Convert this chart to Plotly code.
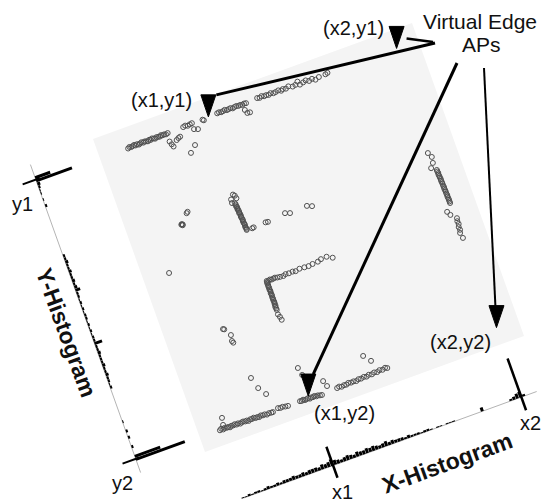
import plotly.graph_objects as go

# ---------------- data (floor-plan coordinates, 0..100 on each side) ----------------
nw_row = [(8.8, 6.3), (9.3, 6.0), (9.8, 6.2), (10.3, 6.1), (10.8, 5.9), (11.2, 6.2), (11.7, 6.0),
          (12.2, 6.3), (12.6, 6.1), (13.1, 5.9), (13.6, 6.2), (14.0, 6.0), (14.5, 6.1), (15.0, 6.3),
          (15.5, 6.0), (15.9, 6.2), (16.4, 5.9), (16.9, 6.1), (17.3, 6.3), (17.8, 6.0), (18.3, 6.1),
          (18.8, 6.2), (19.2, 5.9), (19.7, 6.1), (20.2, 6.0), (20.7, 6.2), (21.3, 6.0)]
nw_scatter = [(21.0, 8.6), (21.3, 9.6), (21.6, 10.4), (23.1, 8.9), (23.8, 8.5), (24.4, 8.3),
              (26.2, 5.9), (26.9, 5.7), (27.6, 6.0), (28.3, 5.8), (29.0, 5.7), (29.0, 7.6),
              (30.1, 8.0), (27.7, 12.2), (25.8, 14.0), (32.3, 5.8), (32.6, 6.1)]
north_row_a = [(37.0, 5.5), (37.6, 5.4), (38.2, 5.6), (38.8, 5.5), (39.4, 5.3), (40.0, 5.6),
               (40.6, 5.5), (41.2, 5.4), (41.8, 5.7), (42.4, 5.5), (43.0, 5.4), (43.6, 5.6),
               (44.2, 5.5), (44.8, 5.7), (45.4, 5.5), (46.0, 5.6), (45.0, 7.4), (45.4, 8.5),
               (46.2, 8.6)]
north_row_b = [(49.6, 5.3), (50.3, 5.5), (51.0, 5.2), (51.7, 5.5), (52.4, 5.4), (53.1, 5.6),
               (53.8, 5.3), (54.6, 5.6), (55.3, 5.5), (56.2, 5.3), (57.0, 5.7), (57.6, 5.4),
               (58.5, 5.6), (59.4, 5.2), (60.6, 5.7), (61.5, 5.5), (62.4, 4.8), (62.8, 5.9),
               (63.9, 5.6), (64.8, 5.3), (65.7, 5.8), (66.7, 5.5), (67.6, 6.1), (68.8, 5.7),
               (70.9, 5.6), (71.6, 5.4)]
center_west = [(18.6, 30.6), (19.0, 30.3), (16.0, 33.3), (16.3, 33.6), (16.2, 33.2), (16.4, 33.4),
               (7.8, 45.7)]
center_col = [(33.3, 30.1), (33.7, 30.6), (32.3, 31.3), (33.9, 31.5), (32.2, 32.4), (33.0, 32.8),
              (33.1, 33.2), (33.0, 33.7), (33.2, 34.0), (33.2, 34.5), (33.1, 34.8), (33.3, 35.2),
              (33.3, 35.7), (33.2, 36.0), (33.4, 36.4), (33.4, 36.9), (33.3, 37.2), (33.4, 37.6),
              (33.5, 38.1), (33.5, 38.4), (33.4, 38.8), (33.5, 39.3), (33.6, 39.6), (33.6, 40.0),
              (33.5, 40.5), (33.6, 40.8), (33.7, 41.2), (33.6, 41.5)]
center_row = [(35.3, 41.6), (35.8, 41.5), (39.6, 41.3), (40.3, 41.4), (45.9, 40.7), (47.3, 41.2),
              (52.7, 40.9), (54.1, 41.5)]
l_row = [(34.1, 58.0), (34.6, 58.1), (35.1, 57.9), (35.6, 58.1), (36.2, 58.0), (36.7, 57.9),
         (37.4, 58.1), (38.2, 58.2), (39.2, 58.3), (40.0, 58.0), (41.0, 58.1), (42.2, 58.0),
         (43.1, 58.2), (44.4, 57.9), (45.9, 58.0), (47.2, 58.1), (48.5, 57.9), (50.2, 57.8),
         (51.3, 57.4), (53.1, 57.3), (54.7, 58.2)]
l_col = [(34.1, 58.4), (34.0, 58.8), (34.1, 59.3), (34.0, 59.7), (34.1, 60.1), (34.0, 60.6),
         (34.1, 61.0), (34.1, 61.4), (34.0, 61.9), (34.1, 62.3), (34.1, 62.7), (34.0, 63.2),
         (34.1, 63.6), (34.0, 64.0), (34.1, 64.5), (34.1, 64.9), (34.0, 65.3), (34.1, 65.8),
         (33.9, 66.2), (34.0, 66.7), (34.0, 67.2), (33.9, 68.6), (34.2, 69.5), (34.4, 70.5)]
sw_cluster = [(17.2, 67.1), (17.5, 67.3), (18.8, 69.6), (18.5, 71.4), (18.7, 72.0)]
south_scatter = [(20.1, 83.8), (21.1, 87.4), (22.7, 89.9), (34.1, 85.8), (34.6, 88.2), (39.8, 92.1),
                 (40.4, 93.9), (53.4, 89.1), (55.1, 91.3), (8.1, 92.1), (7.7, 94.2)]
south_row_w = [(6.3, 95.4), (6.8, 95.1), (7.3, 95.5), (7.8, 95.2), (8.4, 95.4), (8.9, 95.3),
               (9.4, 95.6), (9.9, 95.3), (10.5, 95.4), (11.0, 95.2), (11.5, 95.5), (12.0, 95.3),
               (12.6, 95.6), (13.1, 95.4), (13.6, 95.3), (14.2, 95.5), (14.7, 95.4), (15.2, 95.7),
               (15.8, 95.4), (16.3, 95.5), (16.9, 95.3), (17.4, 95.6), (18.0, 95.5), (18.5, 95.7),
               (19.1, 95.4), (19.7, 95.6), (20.3, 95.5), (20.9, 95.8), (21.6, 95.6), (22.3, 95.7),
               (22.8, 95.7), (24.6, 95.1), (25.3, 95.3), (26.0, 95.2), (26.8, 95.4), (27.6, 95.5)]
south_row_mid = [(31.4, 95.4), (31.9, 95.5), (32.4, 95.3), (32.9, 95.6), (33.4, 95.5), (33.9, 95.4),
                 (34.4, 95.7), (34.9, 95.5), (35.4, 95.6), (35.9, 95.4), (36.4, 95.7), (36.9, 95.6),
                 (37.5, 95.8), (38.1, 95.9)]
south_row_e = [(43.0, 95.5), (43.7, 95.3), (44.4, 95.6), (45.2, 95.4), (45.9, 95.5), (46.6, 95.2),
               (47.4, 95.4), (48.2, 95.3), (49.0, 95.5), (49.8, 95.2), (50.6, 95.3), (51.5, 95.1),
               (52.3, 95.3), (53.1, 95.0), (54.0, 95.2), (54.8, 94.9), (55.7, 95.1), (56.5, 94.8),
               (57.4, 95.0), (58.3, 94.7), (58.9, 95.0)]
east_col = [(91.5, 38.4), (92.2, 39.9), (91.9, 41.7), (90.9, 43.0), (92.3, 44.1), (92.3, 44.6),
            (92.4, 45.1), (92.3, 45.6), (92.4, 46.1), (92.4, 46.6), (92.5, 47.1), (92.4, 47.6),
            (92.5, 48.1), (92.5, 48.6), (92.5, 49.2), (92.6, 49.7), (92.5, 50.2), (92.6, 50.7),
            (92.6, 51.2), (92.6, 51.8), (92.7, 52.3), (92.6, 52.8), (92.7, 53.3), (92.7, 53.8),
            (92.7, 54.3), (92.7, 54.8), (91.0, 57.0), (91.6, 58.2), (93.1, 59.8), (92.9, 60.7),
            (93.0, 61.6), (92.7, 62.5), (92.8, 63.4), (92.5, 64.3), (92.8, 66.0)]

# virtual edge APs
ap_x = [34.2, 93.2]          # x1, x2
ap_y = [5.6, 94.8]           # y1, y2
ap_x_labels = ["x1", "x2"]
ap_y_labels = ["y1", "y2"]

# X histogram (bin centre along floor x, count)
xhist_bins = list(range(6, 99))
xhist_counts = [1, 1, 2, 1, 2, 2, 1, 2, 3, 2, 2, 3, 2, 3, 3, 3, 4, 3, 3, 4, 3, 4, 4, 4, 3, 5, 4, 5,
                7, 5, 4, 3, 4, 5, 4, 3, 5, 4, 4, 5, 4, 5, 4, 3, 4, 5, 3, 4, 3, 3, 3, 2, 3, 2, 2, 2,
                1, 2, 2, 1, 0, 1, 1, 0, 1, 1, 1, 0, 0, 0, 0, 0, 0, 0, 0, 4, 0, 0, 0, 0, 0, 0, 0, 0,
                2, 3, 5, 6, 2, 0, 0, 0, 0]
# Y histogram (bin centre along floor y, count)
yhist_bins = list(range(1, 100))
yhist_counts = [0, 0, 0, 0, 16, 38, 3, 2, 1, 1, 0, 1, 0, 2, 0, 0, 0, 0, 0, 0, 0, 0, 0, 0, 0, 0, 0, 0,
                0, 2, 2, 3, 2, 2, 3, 2, 2, 3, 2, 3, 5, 2, 2, 1, 2, 1, 2, 1, 2, 2, 1, 2, 1, 2, 1, 2,
                2, 8, 2, 2, 3, 2, 2, 2, 3, 2, 2, 3, 2, 2, 1, 2, 0, 0, 0, 0, 0, 0, 0, 0, 0, 0, 1, 0,
                0, 2, 0, 2, 0, 0, 2, 0, 0, 27, 52, 0, 0, 0, 0]

# ---------------- view geometry (rotated floor drawn in page pixels) ----------------
W, H = 544, 502
ORIGIN = (93.0, 139.0)
UX = (3.19, -1.16)
VY = (1.12, 3.13)
A_HAT = (0.9399, -0.3418)
B_HAT = (0.3369, 0.9416)
XHIST_V = 117.0
YHIST_U = -19.9
FONT = "Liberation Sans, Arial, sans-serif"


def to_screen(u, v):
    return (ORIGIN[0] + u * UX[0] + v * VY[0], ORIGIN[1] + u * UX[1] + v * VY[1])


fig = go.Figure()
shapes = []
annotations = []

# floor square
corners = [to_screen(0, 0), to_screen(100, 0), to_screen(100, 100), to_screen(0, 100)]
path = "M " + " L ".join(f"{x:.2f},{y:.2f}" for x, y in corners) + " Z"
shapes.append(dict(type="path", path=path, fillcolor="#f4f4f4", line=dict(width=0), layer="below"))

# histogram baselines
bx0, by0 = to_screen(6.3, XHIST_V)
bx1, by1 = to_screen(98.0, XHIST_V)
fig.add_trace(go.Scatter(x=[bx0, bx1], y=[by0, by1], mode="lines",
                         line=dict(color="#b4b4b4", width=1), hoverinfo="skip"))
cx0, cy0 = to_screen(YHIST_U, 0.8)
cx1, cy1 = to_screen(YHIST_U, 99.2)
fig.add_trace(go.Scatter(x=[cx0, cx1], y=[cy0, cy1], mode="lines",
                         line=dict(color="#b4b4b4", width=1), hoverinfo="skip"))

# histogram bars
hx, hy = [], []
for b, c in zip(xhist_bins, xhist_counts):
    if c <= 0:
        continue
    x0, y0 = to_screen(b, XHIST_V)
    hx += [x0, x0 - c * B_HAT[0], None]
    hy += [y0, y0 - c * B_HAT[1], None]
fig.add_trace(go.Scatter(x=hx, y=hy, mode="lines", line=dict(color="black", width=3),
                         hoverinfo="skip"))
hx, hy = [], []
for b, c in zip(yhist_bins, yhist_counts):
    if c <= 0:
        continue
    x0, y0 = to_screen(YHIST_U, b)
    hx += [x0, x0 + c * A_HAT[0], None]
    hy += [y0, y0 + c * A_HAT[1], None]
fig.add_trace(go.Scatter(x=hx, y=hy, mode="lines", line=dict(color="black", width=3),
                         hoverinfo="skip"))

# ticks for x1, x2 (below / above lengths) and y1, y2
x_tick_len = [(13, 20), (14, 41)]
for xv, lab, (below, above) in zip(ap_x, ap_x_labels, x_tick_len):
    cx, cy = to_screen(xv, XHIST_V)
    shapes.append(dict(type="line", x0=cx + below * B_HAT[0], y0=cy + below * B_HAT[1],
                       x1=cx - above * B_HAT[0], y1=cy - above * B_HAT[1],
                       line=dict(color="black", width=2.5)))
    annotations.append(dict(x=cx + 9, y=cy + 26, text=lab, showarrow=False,
                            font=dict(size=20, color="#111", family=FONT)))
for yv, lab in zip(ap_y, ap_y_labels):
    cx, cy = to_screen(YHIST_U, yv)
    shapes.append(dict(type="line", x0=cx - 14 * A_HAT[0], y0=cy - 14 * A_HAT[1],
                       x1=cx + 4 * A_HAT[0], y1=cy + 4 * A_HAT[1],
                       line=dict(color="black", width=2)))
    annotations.append(dict(x=cx - 13, y=cy + 24, text=lab, showarrow=False,
                            font=dict(size=20, color="#111", family=FONT)))

# measured points
clusters = [nw_row, nw_scatter, north_row_a, north_row_b, center_west, center_col, center_row,
            l_row, l_col, sw_cluster, south_scatter, south_row_w, south_row_mid, south_row_e,
            east_col]
px, py = [], []
for cl in clusters:
    for u, v in cl:
        sx, sy = to_screen(u, v)
        px.append(sx)
        py.append(sy)
fig.add_trace(go.Scatter(x=px, y=py, mode="markers",
                         marker=dict(symbol="circle-open", size=5, color="#505050",
                                     line=dict(width=1)),
                         hoverinfo="skip"))

# virtual AP triangles + callout lines
ap_pts = {}
for xi, xv in enumerate(ap_x):
    for yi, yv in enumerate(ap_y):
        tx, ty = to_screen(xv, yv)
        ap_pts[(xi, yi)] = (tx, ty)
        shapes.append(dict(type="path",
                           path=f"M {tx-7.5:.2f},{ty-22:.2f} L {tx+7.5:.2f},{ty-22:.2f} L {tx:.2f},{ty:.2f} Z",
                           fillcolor="black", line=dict(color="black", width=1)))

callouts = [
    ((0, 0), (8, -22), (435, 43), 3),
    ((1, 0), (10, -10), (433, 42), 2.5),
    ((0, 1), (5, -22), (457, 63), 3),
    ((1, 1), (-1, -20), (484, 68), 2),
]
for key, off, end, wdt in callouts:
    tx, ty = ap_pts[key]
    shapes.append(dict(type="line", x0=tx + off[0], y0=ty + off[1], x1=end[0], y1=end[1],
                       line=dict(color="black", width=wdt)))

ap_text = [("(x1,y1)", (161, 100)), ("(x2,y1)", (353, 28)), ("(x1,y2)", (344, 413)),
           ("(x2,y2)", (460, 342))]
for t, (x, y) in ap_text:
    annotations.append(dict(x=x, y=y, text=t, showarrow=False,
                            font=dict(size=20, color="#111", family=FONT)))
annotations.append(dict(x=480, y=21, text="Virtual Edge", showarrow=False,
                        font=dict(size=21, color="#111", family=FONT)))
annotations.append(dict(x=481, y=44, text="APs", showarrow=False,
                        font=dict(size=21, color="#111", family=FONT)))
annotations.append(dict(x=447, y=463, text="<b>X-Histogram</b>", showarrow=False, textangle=-20,
                        font=dict(size=23, color="#111", family=FONT)))
annotations.append(dict(x=66, y=332, text="<b>Y-Histogram</b>", showarrow=False, textangle=70,
                        font=dict(size=23, color="#111", family=FONT)))

for a in annotations:
    a.update(xref="x", yref="y")

fig.update_layout(
    width=W, height=H, margin=dict(l=0, r=0, t=0, b=0),
    paper_bgcolor="white", plot_bgcolor="white", showlegend=False,
    shapes=shapes, annotations=annotations,
    xaxis=dict(range=[0, W], visible=False, fixedrange=True),
    yaxis=dict(range=[H, 0], visible=False, fixedrange=True),
)

fig.write_html("out.html", config={"displayModeBar": False},
               post_script="document.body.style.margin='0px';")
